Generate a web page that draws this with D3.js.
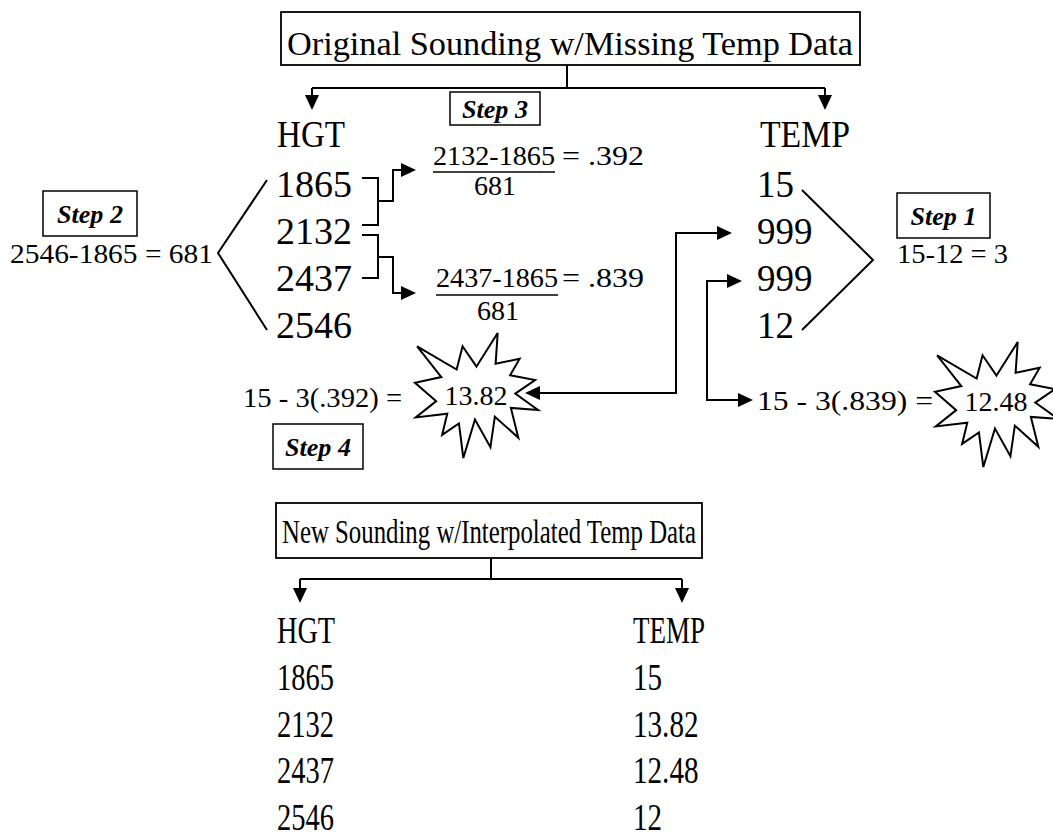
<!DOCTYPE html>
<html><head><meta charset="utf-8">
<script src="https://cdn.jsdelivr.net/npm/d3@7"></script>
<style>body{margin:0;background:#fff}svg{display:block}text{font-family:"Liberation Serif","Times New Roman",serif;fill:#000}</style>
</head><body><svg id="c" width="1053" height="838"></svg>
<script>
// ---- data ----
const titleTop = "Original Sounding w/Missing Temp Data";
const titleBottom = "New Sounding w/Interpolated Temp Data";
const headers = ["HGT", "TEMP"];
const heights = [1865, 2132, 2437, 2546];
const tempsOriginal = ["15", "999", "999", "12"];
const tempsNew = ["15", "13.82", "12.48", "12"];
const stepLabels = ["Step 1", "Step 2", "Step 3", "Step 4"];
const stepFormulas = ["15-12 = 3", "2546-1865 = 681"];
const fractionNumerators = ["2132-1865", "2437-1865"];
const fractionDenominators = ["681", "681"];
const fractionResults = ["= .392", "= .839"];
const interpFormulas = ["15 - 3(.392) =", "15 - 3(.839) ="];
const interpResults = ["13.82", "12.48"];

const svg = d3.select("#c");
const g = svg.append("g");
const rowTop = d3.scaleLinear().domain([0, 3]).range([197, 338]);
const rowBot = d3.scaleLinear().domain([0, 3]).range([690, 830]);

function line(pts, w) {
  g.append("path").attr("d", d3.line()(pts)).attr("fill", "none")
   .attr("stroke", "#000").attr("stroke-width", w || 2).attr("stroke-linejoin", "miter");
}
function head(x, y, dir) { // tip at (x,y)
  const L = 15, H = 7;
  let p;
  if (dir === "down") p = [[x, y], [x - H, y - L], [x + H, y - L]];
  if (dir === "right") p = [[x, y], [x - L, y - H], [x - L, y + H]];
  if (dir === "left") p = [[x, y], [x + L, y - H], [x + L, y + H]];
  g.append("path").attr("d", d3.line()(p) + "Z").attr("fill", "#000");
}
function txt(s, x, y, size, opts) {
  opts = opts || {};
  const t = g.append("text").attr("x", x).attr("y", y).attr("font-size", size).text(s);
  if (opts.anchor) t.attr("text-anchor", opts.anchor);
  if (opts.len) t.attr("textLength", opts.len).attr("lengthAdjust", "spacingAndGlyphs");
  if (opts.bold) t.attr("font-weight", "bold");
  if (opts.italic) t.attr("font-style", "italic");
  return t;
}
function box(x, y, w, h, sw) {
  g.append("rect").attr("x", x).attr("y", y).attr("width", w).attr("height", h)
   .attr("fill", "#fff").attr("stroke", "#000").attr("stroke-width", sw || 1.6);
}
function stepBox(label, x, y, w, h) {
  box(x, y, w, h, 1.5);
  txt(label, x + w / 2 - 33, y + h / 2 + 9, 25, {bold: true, italic: true, len: 66});
}
// explosion shape (irregular seal) in 21600 units
const seal = [[10800,5800],[14522,0],[14155,5325],[18380,4457],[16702,7315],[21097,8137],[17607,10475],[21600,13290],[16837,12942],[18145,18095],[14020,14457],[13247,19737],[10532,14935],[8485,21600],[7715,15627],[4762,17617],[5667,13937],[135,14587],[3722,11775],[0,8615],[4627,7617],[370,2295],[7312,6320],[8352,2295]];
function star(x0, y0, w, h) {
  const sx = d3.scaleLinear().domain([0, 21600]).range([x0, x0 + w]);
  const sy = d3.scaleLinear().domain([0, 21600]).range([y0, y0 + h]);
  g.append("path").attr("d", d3.line().x(d => sx(d[0])).y(d => sy(d[1]))(seal) + "Z")
   .attr("fill", "#fff").attr("stroke", "#000").attr("stroke-width", 2).attr("stroke-linejoin", "miter");
}

// ---- top title ----
box(281, 12, 579, 53, 1.8);
txt(titleTop, 287, 55, 33, {len: 566});
line([[567, 65], [567, 88]]);
line([[312, 88], [825, 88]]);
line([[312, 88], [312, 98]]); head(312, 110, "down");
line([[825, 88], [825, 98]]); head(825, 110, "down");

// ---- top table ----
txt(headers[0], 277, 147, 37, {len: 68});
txt(headers[1], 760, 147, 37, {len: 90});
heights.forEach((h, i) => txt(String(h), 276, rowTop(i), 37, {len: 76}));
tempsOriginal.forEach((t, i) => txt(t, 757, rowTop(i), 37));

// step 3
stepBox(stepLabels[2], 450, 92, 90, 33);
// brackets
line([[362, 178], [378, 178], [378, 225], [362, 225]]);
line([[378, 201], [393, 201], [393, 170], [402, 170]]); head(416, 170, "right");
line([[362, 235], [378, 235], [378, 278], [362, 278]]);
line([[378, 257], [393, 257], [393, 293], [402, 293]]); head(416, 293, "right");
// fractions
[[433, 165, 172, 195], [436, 287, 295, 320]].forEach((p, i) => {
  txt(fractionNumerators[i], p[0], p[1], 28, {len: 122});
  line([[p[0], p[2]], [p[0] + 122, p[2]]], 1.6);
  txt(fractionDenominators[i], p[0] + 62, p[3], 28, {anchor: "middle"});
  txt(fractionResults[i], 562, p[1], 28, {len: 82});
});

// step 2
stepBox(stepLabels[1], 43, 191, 94, 45);
txt(stepFormulas[1], 10, 263, 28, {len: 203});
line([[267, 180], [218, 253], [267, 330]]);

// step 1
line([[802, 190], [873, 260], [802, 330]]);
stepBox(stepLabels[0], 897, 193, 93, 45);
txt(stepFormulas[0], 897, 263, 28, {len: 111});

// interpolation arrows
line([[732 - 14, 233], [676, 233], [676, 393], [527 + 12, 393]]);
head(732, 233, "right");
line([[742 - 14, 281], [707, 281], [707, 400], [753 - 12, 400]]);
head(742, 281, "right"); head(753, 400, "right");

// stars
star(415, 333, 123, 125);
txt(interpResults[0], 476, 405, 28, {anchor: "middle"});
head(525, 393, "left");
txt(interpFormulas[0], 243, 407, 28, {len: 159});
stepBox(stepLabels[3], 273, 424, 90, 45);

star(935, 342, 123, 125);
txt(interpResults[1], 996, 411, 28, {anchor: "middle"});
txt(interpFormulas[1], 757, 410, 28, {len: 176});

// ---- bottom title ----
box(276, 503, 426, 55, 1.8);
txt(titleBottom, 282, 543, 33, {len: 414});
line([[491, 558], [491, 579]]);
line([[300, 579], [682, 579]]);
line([[300, 579], [300, 590]]); head(300, 603, "down");
line([[682, 579], [682, 590]]); head(682, 603, "down");

// ---- bottom table ----
txt(headers[0], 277, 643, 37, {len: 58});
txt(headers[1], 633, 643, 37, {len: 72});
heights.forEach((h, i) => txt(String(h), 277, rowBot(i), 37, {len: 57}));
tempsNew.forEach((t, i) => txt(t, 633, rowBot(i), 37, {len: t.length * 14.5 - (t.includes(".") ? 7 : 0)}));
</script></body></html>
